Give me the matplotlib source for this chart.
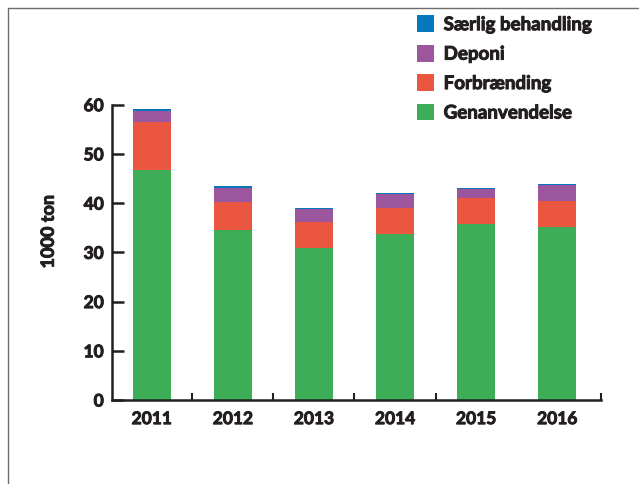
import numpy as np
import matplotlib.pyplot as plt
import matplotlib.patheffects as pe
from matplotlib.lines import Line2D

years = ['2011', '2012', '2013', '2014', '2015', '2016']
genanvendelse = [46.7, 34.6, 30.9, 33.7, 35.8, 35.2]
forbraending = [9.7, 5.6, 5.3, 5.3, 5.3, 5.2]
deponi = [2.3, 2.9, 2.7, 2.9, 1.8, 3.3]
saerlig = [0.4, 0.3, 0.2, 0.2, 0.2, 0.2]

series = [
    ('Genanvendelse', genanvendelse, '#3dae57'),
    ('Forbrænding', forbraending, '#eb5640'),
    ('Deponi', deponi, '#9b569e'),
    ('Særlig behandling', saerlig, '#0677bd'),
]

plt.rcParams['font.family'] = ['Lato', 'DejaVu Sans']
plt.rcParams['font.weight'] = 'bold'
plt.rcParams['axes.labelweight'] = 'bold'
ink = '#231f20'
thick = [pe.withStroke(linewidth=0.7, foreground=ink)]

fig = plt.figure(figsize=(6.39, 4.85), dpi=100)
ax = fig.add_axes([112 / 639, 84 / 485, 489 / 639, 295.3 / 485])

x = np.arange(len(years))
bottom = np.zeros(len(years))
handles = []
for name, vals, col in series:
    b = ax.bar(x, vals, 0.47, bottom=bottom, color=col, label=name)
    handles.append(b)
    bottom += np.array(vals)

ax.set_xlim(-0.49, 5.54)
ax.set_ylim(0, 60)
ax.set_yticks(range(0, 61, 10))
ax.set_xticks(x)
ax.set_xticklabels(years)
ax.set_xticks([0.5, 1.5, 2.5, 3.5, 5.54], minor=True)

for s in ['top', 'right']:
    ax.spines[s].set_visible(False)
for s in ['left', 'bottom']:
    ax.spines[s].set_linewidth(1.8)
    ax.spines[s].set_color(ink)

ax.tick_params(axis='y', direction='in', length=8.5, width=1.8, color=ink,
               labelsize=12.5, labelcolor=ink, pad=6)
ax.tick_params(axis='x', which='major', length=0, labelsize=12.5,
               labelcolor=ink, pad=8)
ax.tick_params(axis='x', which='minor', direction='in', length=5, width=1.5,
               color=ink)

ax.set_ylabel('1000 ton', fontsize=13, color=ink)
ax.yaxis.set_label_coords(-0.113, 0.57)

leg = ax.legend(handles[::-1], [s[0] for s in series][::-1],
                loc='upper left', bbox_to_anchor=(408 / 639, 1 - 7 / 485),
                bbox_transform=fig.transFigure, frameon=False,
                fontsize=13.5, handlelength=0.9, handleheight=1.0,
                handletextpad=0.5, labelspacing=0.62, borderpad=0)
for t in leg.get_texts():
    t.set_color(ink)
    t.set_path_effects(thick)

for t in ax.get_xticklabels() + ax.get_yticklabels() + [ax.yaxis.label]:
    t.set_path_effects(thick)

# outer frame
fig.add_artist(Line2D([8 / 639, 8 / 639, 1.0], [0, 1 - 9 / 485, 1 - 9 / 485],
                      transform=fig.transFigure, color='#6d6d6d', lw=1))

fig.savefig('out.png', dpi=100)
